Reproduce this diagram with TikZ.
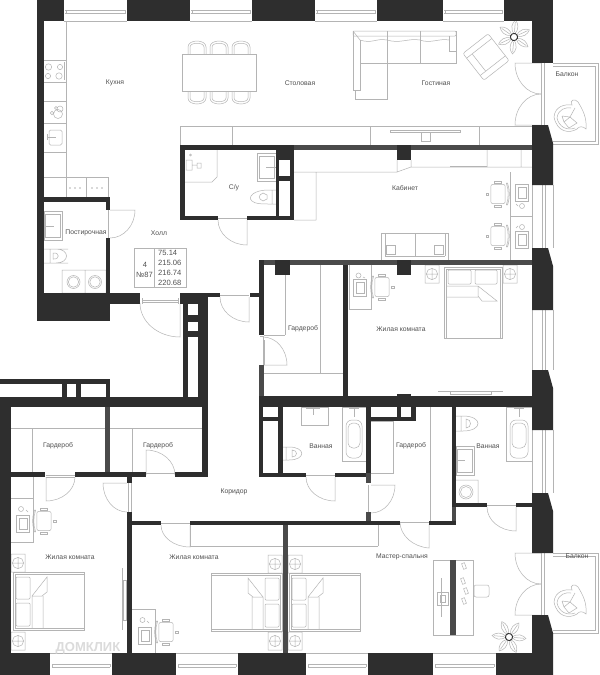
\documentclass[tikz,border=0pt]{standalone}
\usepackage{fontspec}
\setmainfont{Liberation Sans}
\usetikzlibrary{calc}
\definecolor{wallc}{HTML}{2E2E2E}
\definecolor{wallg}{HTML}{4A4A4A}
\definecolor{furn}{HTML}{B4B4B4}
\definecolor{txt}{HTML}{505050}
\tikzset{
 fur/.style={draw=furn,line width=.5pt,fill=none},
 lab/.style={text=txt,font=\fontsize{6.8}{7}\selectfont,inner sep=0pt},
 info/.style={text=txt,font=\fontsize{7.6}{8}\selectfont,inner sep=0pt},
}
% wall rectangles
\newcommand{\wl}[4]{\fill[wallc] (#1,#2) rectangle (#3,#4);}
\newcommand{\wg}[4]{\fill[wallg] (#1,#2) rectangle (#3,#4);}
\newcommand{\wh}[4]{\fill[white] (#1,#2) rectangle (#3,#4);}
% door: hinge, leaf end, arc end
\newcommand{\dr}[6]{\draw[fur] (#1,#2) -- (#3,#4) .. controls ($(#3,#4)+.5523*(#5,#6)-.5523*(#1,#2)$) and ($(#5,#6)+.5523*(#3,#4)-.5523*(#1,#2)$) .. (#5,#6);}
% horizontal window
\newcommand{\winh}[3]{\draw[fur] (#1,#3) -- (#2,#3) (#1+1,10) -- (#2-1,10) (#1+1,13) -- (#2-1,13) (#1+2,10) -- (#1+2,13) (#2-2,10) -- (#2-2,13);}
\newcommand{\winb}[2]{\draw[fur] (#1,653) -- (#2,653) (#1+2,664) -- (#2-2,664) (#1+2,667) -- (#2-2,667) (#1+2,664) -- (#1+2,667) (#2-2,664) -- (#2-2,667) (#1,675) -- (#2,675);}
\newcommand{\winv}[2]{\draw[fur] (532,#1) -- (532,#2) (553,#1) -- (553,#2) (542,#1) -- (542,#2) (545,#1) -- (545,#2);}
% bed: head at local x=0, foot at x=72, width 58
\newcommand{\bed}[1]{\begin{scope}[#1]
 \draw[fur] (0,0) rectangle (71,58) (2,2) rectangle (71,56);
 \draw[fur,rounded corners=1pt] (3,5) rectangle (17,27) (3,31) rectangle (17,54);
 \draw[fur] (19,56) -- (19,24) -- (34,5) -- (34,20) -- (29,24) -- (19,24) (30,24) -- (30,56);
\end{scope}}
% nightstand
\newcommand{\nst}[2]{\draw[fur] (#1,#2) rectangle ++(14,18) (#1+7,#2+9) circle (5.6) (#1+1.4,#2+9) -- (#1+12.6,#2+9) (#1+7,#2+3.4) -- (#1+7,#2+14.6);}
% desk chair, seat centred, back on the negative-x side when rotated 0
\newcommand{\chr}[1]{\begin{scope}[#1,scale=1.2]
 \draw[fur,rounded corners=2pt] (-6,-8) rectangle (6,8);
 \draw[fur] (-8,-9) .. controls (-10,-3) and (-10,3) .. (-8,9) -- (-7,9) .. controls (-9,3) and (-9,-3) .. (-7,-9) -- cycle;
 \draw[fur] (-3,-11) rectangle (3,-9) (-3,9) rectangle (3,11) (8,-1) rectangle (10,1);
\end{scope}}
% monitor on desk
\newcommand{\mon}[2]{\draw[fur] (#1,#2) rectangle ++(13,17) (#1+3,#2+3) rectangle ++(8,11);}
% table chair
\newcommand{\tch}[3]{\draw[fur] (#1-9,#2) -- (#1-9,#2+#3*7) .. controls (#1-9,#2+#3*15) and (#1+9,#2+#3*15) .. (#1+9,#2+#3*7) -- (#1+9,#2)
  (#1-7,#2) -- (#1-7,#2+#3*7) .. controls (#1-7,#2+#3*12) and (#1+7,#2+#3*12) .. (#1+7,#2+#3*7) -- (#1+7,#2);}
% plant
\newcommand{\plant}[3]{\begin{scope}[shift={(#1,#2)},rotate=#3]
 \foreach \a in {0,60,...,300}{
  \draw[fur,rotate=\a] (3,0) .. controls (8,-5) and (14,-3) .. (17,0) .. controls (14,3) and (8,5) .. (3,0) (5,0) -- (15,0);}
 \draw[wallc,line width=.9pt] (0,0) circle (3.6);
\end{scope}}
% balcony chair
\newcommand{\bch}[2]{\begin{scope}[shift={(#1,#2)}]
 \draw[fur] (-15,-1) .. controls (-14,-12) and (-4,-14) .. (3,-13) .. controls (0,-18) and (6,-20) .. (9,-16) .. controls (14,-8) and (18,0) .. (17,11) .. controls (14,8) and (10,8) .. (8,11) .. controls (0,16) and (-12,14) .. (-15,-1);
 \draw[fur] (-12,0) .. controls (-11,-9) and (-3,-11) .. (2,-10) (-12,0) .. controls (-10,9) and (-2,13) .. (6,10);
 \draw[fur] (-7,-2) -- (1,-1) -- (6,-10) (-5,4) -- (1,-1) -- (8,5) -- (0,10) -- (-5,4) (-7,-2) -- (-5,4);
\end{scope}}
\begin{document}
\begin{tikzpicture}[x=1pt,y=-1pt]
\useasboundingbox (0,0) rectangle (600,675);
\fill[white] (0,0) rectangle (600,675);

%%% ---------- furniture: kitchen
\draw[fur] (66,21) -- (66,197) (44,60) -- (66,60) (44,82) -- (66,82) (44,101) -- (66,101) (44,123) -- (66,123) (44,152) -- (66,152) (44,177) -- (108,177);
\draw[fur] (48.5,67) circle (3.2) (60,67) circle (2.6) (48,76) circle (2.6) (59,76) circle (3.2);
\draw[fur] (64,62) -- (64,80);
\draw[fur] (60,109) circle (3) (58,114) circle (4.5) (52,113) circle (1.8) (56,108) circle (1.6);
\draw[fur,rounded corners=1.5pt] (49,130) rectangle (62,145);
\draw[fur] (47,137) -- (56,137) (47,134) -- (47,140);
\draw[fur] (66,177) rectangle (86.5,197) (86.5,177) rectangle (108,197);
\foreach \x in {70,75,80,92,97,102}{\fill[furn] (\x,188) circle (.8);}
%%% table
\draw[fur] (182.5,54) rectangle (256,91);
\foreach \x in {197,219,241}{\tch{\x}{54}{-1}\tch{\x}{91}{1}}
%%% sofa
\draw[fur,rounded corners=1pt] (353,31) rectangle (456,36);
\draw[fur] (353,31) -- (353,90) (355,90) -- (355,99) -- (387,99) -- (387,63) -- (456,63) -- (456,31);
\draw[fur] (360,40) -- (360,63) -- (387,63) (387,31) -- (387,63) (420,31) -- (420,63) (360,63) -- (360,90) -- (353,90);
\draw[fur] (353,31) -- (360,40) .. controls (372,44) and (376,38) .. (387,40) .. controls (400,44) and (408,38) .. (420,40) .. controls (430,44) and (440,38) .. (449,40);
\draw[fur] (449,36) -- (449,51) -- (456,51);
%%% armchair
\begin{scope}[shift={(486,57)},rotate=38]
 \draw[fur,rounded corners=2pt] (-16,-17) rectangle (16,17);
 \draw[fur] (-16,-11) -- (16,-11) (-16,11) -- (16,11) (-9,-11) -- (-9,11);
\end{scope}
\plant{514}{37}{25}
%%% balcony top
\draw[fur] (553,63) -- (598,63) -- (598,144) -- (553,144);
\draw[fur] (553,66) -- (595,66) -- (595,141) -- (553,141);
\draw[fur] (541,63) -- (541,125) (544,63) -- (544,125);
\dr{541}{63}{515}{63}{541}{94}
\dr{541}{125}{515}{125}{541}{94}
\bch{569}{118}
%%% storage strip under dining
\draw[fur] (180,126) -- (532,126) (180,126) -- (180,145) (232,126) -- (232,145) (370,126) -- (370,145) (479,126) -- (479,145);
\draw[fur] (390,130) rectangle (460,132.5) (421,132.5) rectangle (430,141);
%%% C/у
\draw[fur] (185,182) -- (212,182) -- (217,177) -- (217,150);
\draw[fur] (186,160) rectangle (192,170) (197,163) rectangle (201,168) (192,165) -- (197,165) (190.5,155) circle (1);
\draw[fur] (257,153) rectangle (276,181) (259,156) rectangle (274,178) (266,167) -- (276,167);
\draw[fur] (276,190) -- (268,190) (268,204) -- (276,204) (272,190) -- (272,204) (268,190) .. controls (254,190) and (247,197) .. (252,201) .. controls (255,204) and (262,204) .. (268,204);
\draw[fur] (263,193) .. controls (258,195) and (258,199) .. (263,201) -- (267,199) -- (267,195) -- cycle;
\dr{247}{220}{247}{245}{218}{220}
\draw[fur] (218,218) -- (247,218);
%%% cabinet
\draw[fur] (294,172) -- (397,172) -- (411,167) -- (532,167) (397,160) -- (397,172) (411,160) -- (411,167) (487,150) -- (487,167) (521,150) -- (521,167) (316,172) -- (316,220) (294,220) -- (316,220);
\draw[fur] (450,166) -- (487,166);
\draw[fur] (510,172) -- (510,260) (510,216) -- (532,216);
\mon{515}{184}\chr{shift={(498,194)},rotate=180}
\mon{515}{231}\chr{shift={(498,236)},rotate=180}
\draw[fur] (522,206) circle (2.5) (522,227) circle (2.5) (516,204) -- (518,206) (516,228) -- (518,226);
\draw[fur] (381,233) rectangle (448,260) (385,233) -- (385,256) (445,233) -- (445,256) (385,233) -- (445,233) (385,256) -- (445,256) (415,233) -- (415,256);
\draw[fur] (386,245) rectangle (395,254) (434,245) rectangle (443,254);
%%% bedroom right
\draw[fur] (349,265) -- (349,309) -- (371,309) -- (371,265);
\mon{353}{279}\chr{shift={(382,287)},rotate=0}
\draw[fur] (358.5,275.5) circle (2.5) (363,277) -- (365,278);
\bed{shift={(502,267)},rotate=-90}
\nst{425}{265}\nst{503}{265}
\draw[fur] (438,391) -- (503,391) (450,391) rectangle (491,394);
\draw[fur] (343,373) -- (264,373);
%%% wardrobe middle
\draw[fur] (285,275) -- (285,335) (264,335) -- (285,335) (320,265) -- (320,373);
\draw[fur] (264,340) -- (264,365) (260,336) -- (264,336);
\dr{263}{365}{287}{365}{263}{337}
\draw[fur] (263,365) -- (263,337);
%%% hall doors
\dr{249}{297}{249}{322}{220}{297}
\draw[fur] (220,295) -- (249,295);
\dr{180}{303}{180}{337}{140}{303}
\draw[fur] (142,300) -- (178,300) (142,302) -- (178,302) (142,298) -- (142,304) (178,298) -- (178,304);
\dr{110}{210}{135}{210}{110}{238}
\draw[fur] (108,210) -- (108,238);
%%% info box
\draw[fur] (134,248) rectangle (186,287.5) (154.5,248) -- (154.5,287.5);
%%% laundry
\draw[fur] (44,211) rectangle (62,240) (45,214) rectangle (60,237) (44,226) -- (54,226);
\draw[fur] (44,249) -- (68,249) (44,263) -- (68,263) (50,249) -- (50,263) (56,249) .. controls (70,249) and (70,263) .. (56,263) (53,253) .. controls (60,252) and (60,260) .. (53,259) -- cycle;
\draw[fur] (62,270) rectangle (85,293) (85,270) rectangle (106,293) (73.5,282) circle (6.5) (95,282) circle (6.5) (73.5,282) circle (5.2) (95,282) circle (5.2);
%%% lower-left wardrobes
\draw[fur] (11,428) -- (105,428) (110,428) -- (202,428) (32,428) -- (32,473) (132,428) -- (132,473);
\dr{46}{477}{46}{501}{75}{477}
\draw[fur] (46,475) -- (75,475) (46,477) -- (75,477);
\dr{146}{475}{146}{450}{175}{475}
\draw[fur] (146,473) -- (175,473);
\dr{127}{483}{103}{483}{127}{512}
\draw[fur] (128,483) -- (128,512) (131,483) -- (131,512);
%%% room 1
\draw[fur] (33,477) -- (33,542) -- (11,542) (11,498) -- (33,498);
\mon{16}{515}\chr{shift={(44,521)},rotate=0}
\draw[fur] (21,509) circle (2.5) (26,510) -- (28,512);
\nst{11}{554}\nst{11}{632}
\bed{shift={(13,572)}}
\draw[fur] (122.5,568) -- (122.5,630) (123.5,580) rectangle (126,620);
%%% room 2
\draw[fur] (132,609) -- (155,609) -- (155,653);
\mon{138}{627}\chr{shift={(166,632)},rotate=0}
\draw[fur] (142.5,620) circle (2.5) (147,621) -- (149,623);
\draw[fur] (190,546) -- (283,546) (190,525) -- (190,547);
\dr{190}{525}{190}{547}{161}{525}
\draw[fur] (161,523) -- (190,523);
\bed{shift={(282,573)},xscale=-1}
\nst{268}{555}\nst{268}{632}
%%% master
\bed{shift={(289,573)}}
\nst{288}{555}\nst{288}{632}
\draw[fur] (378,525) -- (378,546) (288,546) -- (378,546);
\draw[fur] (433,560) rectangle (473,635);
\fill[wallg] (450,560) rectangle (456,635);
\draw[fur] (441,578) -- (441,617) (437,592) rectangle (448,605) (440,595) rectangle (445,602);
\draw[fur,rounded corners=2pt] (474,585) rectangle (489,597);
\foreach \px/\py in {464/566,463/581,466/591,464/601}{\draw[fur,rotate around={20:(\px,\py)}] (\px-1.5,\py-3) rectangle (\px+1.5,\py+3);}
\plant{509}{637}{55}
%%% balcony lower
\draw[fur] (553,553) -- (598,553) -- (598,633) -- (553,633);
\draw[fur] (553,556) -- (595,556) -- (595,630) -- (553,630);
\draw[fur] (541,553) -- (541,615) (544,553) -- (544,615);
\dr{541}{553}{515}{553}{541}{584}
\dr{541}{615}{515}{615}{541}{584}
\bch{569}{603}
%%% baths
\draw[fur] (301,407) rectangle (328,425) (313,407) -- (313,415) (306,408) -- (320,408);
\draw[fur] (342,407) rectangle (366,461);
\draw[fur,rounded corners=6pt] (346,420) rectangle (362,458);
\draw[fur,rounded corners=5pt] (348,423) rectangle (360,448);
\draw[fur] (349,408) -- (359,408) (354,408) -- (354,417);
\draw[fur] (283,447) -- (289,447) (283,460) -- (289,460) (286,447) -- (286,460) (289,447) .. controls (306,447) and (306,460) .. (289,460) (292,450) .. controls (298,450) and (298,457) .. (292,457) -- cycle;
\dr{335}{477}{335}{501}{306}{477}
\draw[fur] (306,475) -- (335,475);
%%% wardrobe right
\draw[fur] (371,421) -- (393,421) -- (393,473) -- (371,473) (430,407) -- (430,521);
\dr{371}{485}{395}{485}{371}{513}
\draw[fur] (368,485) -- (368,512);
\dr{429}{524}{429}{548}{400}{522}
\draw[fur] (400,522) -- (429,522);
%%% bath 2
\draw[fur] (456,416) -- (463,416) (456,431) -- (463,431) (461,416) -- (461,431) (463,416) .. controls (483,416) and (483,431) .. (463,431) (466,419) .. controls (472,419) and (472,428) .. (466,428) -- cycle;
\draw[fur] (456,446) rectangle (474,475) (457,449) rectangle (472,472) (456,460) -- (465,460);
\draw[fur] (456,480) -- (478,480) -- (478,503) (466,492) circle (7) (466,492) circle (5.5);
\draw[fur] (506,407) rectangle (532,461);
\draw[fur,rounded corners=6pt] (510,420) rectangle (528,458);
\draw[fur,rounded corners=5pt] (512,423) rectangle (526,448);
\draw[fur] (514,408) -- (524,408) (519,408) -- (519,417);
\dr{516}{507}{516}{531}{487}{507}
\draw[fur] (487,505) -- (516,505);

%%% ---------- windows
\winh{64}{127}{21}\winh{190}{252}{21}\winh{315}{377}{21}\winh{443}{504}{21}
\winb{50}{112}\winb{176}{238}\winb{306}{368}\winb{433}{496}
\winv{185}{248}\winv{310}{370}\winv{430}{493}

%%% ---------- walls: outer
\wl{36.5}{0}{64}{21}\wl{127}{0}{190}{21}\wl{252}{0}{315}{21}\wl{377}{0}{443}{21}\wl{504}{0}{553}{21}
\wl{532}{21}{553}{63}
\wl{36.5}{21}{44}{321}
\wl{36.5}{293}{110}{321}\wl{110}{293}{140}{304}
\wl{44}{197}{110}{202}\wl{106}{197}{110}{210}\wl{106}{238}{110}{293}
\fill[wallc] (532,125) -- (548,125) -- (553,143) -- (553,185) -- (532,185) -- cycle;
\fill[wallc] (532,248) -- (548,248) -- (553,266) -- (553,310) -- (532,310) -- cycle;
\fill[wallc] (532,370) -- (548,370) -- (553,388) -- (553,430) -- (532,430) -- cycle;
\fill[wallc] (532,493) -- (548,493) -- (553,511) -- (553,553) -- (532,553) -- cycle;
\fill[wallc] (532,615) -- (548,615) -- (553,633) -- (553,675) -- (532,675) -- cycle;
\wl{0}{397}{11}{653}\wl{0}{653}{50}{675}\wl{112}{653}{176}{675}\wl{238}{653}{306}{675}\wl{368}{653}{433}{675}\wl{496}{653}{553}{675}
%%% hall column and shafts
\wl{180}{293}{208}{304}\wl{183}{304}{208}{397}
\wh{188}{304}{198}{315}\wh{188}{322}{198}{331}\wh{188}{337}{198}{397}
\wl{208}{293}{220}{297}\wl{250}{293}{259}{297}
\wl{0}{379}{110}{384}\wl{0}{397}{208}{407}
\wl{62}{384}{67}{397}\wl{76}{384}{81}{397}\wl{106}{384}{110}{397}
%%% lower-left walls
\wg{105}{407}{110}{472}
\wl{11}{472}{45}{477}\wl{75}{472}{146}{477}\wl{175}{472}{208}{477}
\wl{202}{407}{208}{477}
\wl{127}{477}{132}{483}\wl{127}{512}{132}{653}
\wl{127}{521}{161}{525}\wl{190}{521}{400}{525}\wl{429}{521}{456}{525}
\wg{283}{525}{288}{653}
%%% C/у
\wl{180}{145}{294}{150}\wl{180}{145}{185}{220}\wl{276}{145}{294}{220}
\wl{180}{216}{218}{220}\wl{247}{216}{294}{220}
\wh{279}{160}{290}{176}\wh{279}{181}{290}{216}
%%% cabinet walls
\wg{294}{145}{532}{150}\wl{397}{145}{411}{160}
\wg{260}{260}{532}{265}\wl{397}{260}{411}{275}
\wl{259}{260}{264}{335}\wl{275}{260}{290}{275}
\wl{343}{265}{348}{396}\wg{259}{365}{264}{396}
%%% central band
\wl{259}{396}{532}{407}\wl{397}{394}{411}{396}
\wl{259}{407}{263}{477}\wl{278}{407}{283}{477}\wl{263}{417}{278}{421}
\wl{259}{473}{306}{477}\wl{335}{473}{366}{477}
\wl{366}{407}{371}{473}\wg{366}{473}{371}{483}\wg{366}{512}{371}{521}
\wl{371}{417}{416}{421}\wl{397}{407}{401}{421}\wl{411}{407}{416}{421}
\wl{452}{407}{456}{507}\wg{452}{507}{456}{521}
\wl{452}{503}{487}{507}\wl{516}{503}{532}{507}

%%% ---------- labels
\node[lab] (kuh) at (115,83) {Кухня};
\node[lab] (sto) at (300,83) {Столовая};
\node[lab] (gos) at (436,83) {Гостиная};
\node[lab] (bal1) at (567,74) {Балкон};
\node[lab] (su) at (234,188) {С/у};
\node[lab] (kab) at (405,188) {Кабинет};
\node[lab] (pos) at (86,233) {Постирочная};
\node[lab] (hol) at (159,233) {Холл};
\node[lab] (gar1) at (303,329) {Гардероб};
\node[lab] (zh1) at (401,329) {Жилая комната};
\node[lab] (gar2) at (58,446) {Гардероб};
\node[lab] (gar3) at (158,446) {Гардероб};
\node[lab] (van1) at (321,446) {Ванная};
\node[lab] (gar4) at (411,446) {Гардероб};
\node[lab] (van2) at (488,446) {Ванная};
\node[lab] (kor) at (234,492) {Коридор};
\node[lab] (zh2) at (70,557) {Жилая комната};
\node[lab] (zh3) at (194,557) {Жилая комната};
\node[lab] (mas) at (402,557) {Мастер-спальня};
\node[lab] (bal2) at (577,556) {Балкон};
\node[info] (n4) at (145,265) {4};
\node[info] (n87) at (144.5,275) {№87};
\node[info,anchor=west] (a1) at (158,253) {75.14};
\node[info,anchor=west] (a2) at (158,263) {215.06};
\node[info,anchor=west] (a3) at (158,273) {216.74};
\node[info,anchor=west] (a4) at (158,283) {220.68};
\node[text=black!14,font=\fontsize{13}{14}\selectfont\bfseries,inner sep=0pt] (wm) at (88,648) {ДОМКЛИК};
\end{tikzpicture}
\end{document}
